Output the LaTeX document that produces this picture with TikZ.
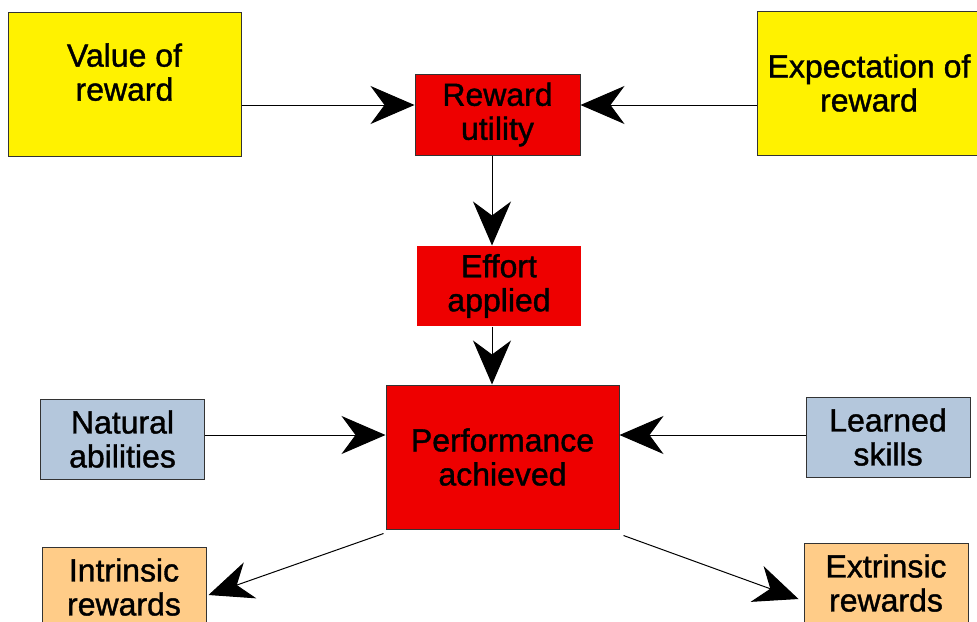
\documentclass[tikz,border=0pt]{standalone}
\usepackage{fontspec}
\setmainfont{Liberation Sans}
\newfontfamily\boxfont[FakeBold=1.2]{Liberation Sans}
\usepackage{tikz}
\usetikzlibrary{arrows.meta,calc,positioning}
\definecolor{boxyellow}{HTML}{FFF200}
\definecolor{boxred}{HTML}{EE0000}
\definecolor{boxblue}{HTML}{B4C7DC}
\definecolor{boxorange}{HTML}{FFCC88}
\definecolor{boxedge}{HTML}{333333}

\begin{document}
\begin{tikzpicture}[x=0.5pt,y=-0.5pt,
    box/.style={draw=boxedge,line width=0.5pt,align=center,inner sep=0pt,
      font=\boxfont\fontsize{16}{17}\selectfont,minimum width=#1},
    box/.default=82pt,
    link/.style={line width=0.5pt,-{Stealth[length=22pt,width=19pt,inset=7pt]}}]
  \clip (0,0) rectangle (977,621);
  % top row
  \node[box=116.5pt,fill=boxyellow,minimum height=72pt,text depth=12pt] (value) at (124.5,84) {Value of\\reward};
  \node[box=82.5pt,fill=boxred,minimum height=40.5pt] (utility) at (497.5,114.5) {Reward\\utility};
  \node[box=112pt,fill=boxyellow,minimum height=72pt] (expect) at (869,83) {Expectation of\\reward};
  % middle column
  \node[box,fill=boxred,draw=none,minimum height=40pt] (effort) at (499,286) {Effort\\applied};
  \node[box=116.5pt,fill=boxred,minimum height=72pt] (perf) at (502.5,457) {Performance\\achieved};
  % sides
  \node[box,fill=boxblue,minimum height=40pt] (natural) at (122.5,439) {Natural\\abilities};
  \node[box,fill=boxblue,minimum height=40pt] (learned) at (888,437) {Learned\\skills};
  \node[box,fill=boxorange,minimum height=40pt] (intrinsic) at (124,587) {Intrinsic\\rewards};
  \node[box,fill=boxorange,minimum height=40pt] (extrinsic) at (886,583) {Extrinsic\\rewards};
  % arrows
  \coordinate (uin) at ([yshift=4.75pt]utility.west);
  \coordinate (uout) at ([yshift=4.75pt]utility.east);
  \draw[link] (value.east |- uin) -- (uin);
  \draw[link] (expect.west |- uout) -- (uout);
  \coordinate (ubot) at ([xshift=-2.75pt]utility.south);
  \draw[link] (ubot) -- (ubot |- effort.north);
  \coordinate (ebot) at ([xshift=-3.5pt]effort.south);
  \draw[link] (ebot) -- (ebot |- perf.north);
  \coordinate (nout) at ([yshift=2pt]natural.east);
  \draw[link] (nout) -- (nout -| perf.west);
  \coordinate (lout) at ([yshift=1pt]learned.west);
  \draw[link] (lout) -- (lout -| perf.east);
  \draw[link] ([shift={(-2,4)}]perf.south west) -- ([shift={(2,8)}]intrinsic.east);
  \draw[link] ([shift={(4,6)}]perf.south east) -- ([shift={(-5,16)}]extrinsic.west);
\end{tikzpicture}
\end{document}
